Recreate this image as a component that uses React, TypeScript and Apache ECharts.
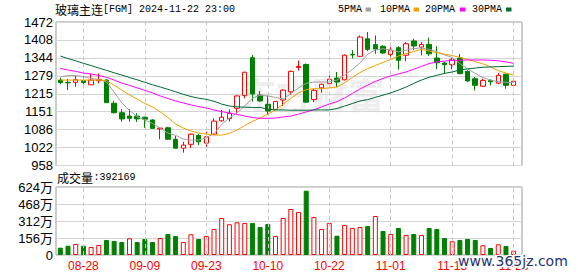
import React, { useEffect, useRef } from "react";
import * as echarts from "echarts";

const dates = [
  "08-23","08-26","08-27","08-28","08-29","08-30","09-02","09-03","09-04","09-05",
  "09-06","09-09","09-10","09-11","09-12","09-13","09-18","09-19","09-20","09-23",
  "09-24","09-25","09-26","09-27","09-30","10-08","10-09","10-10","10-11","10-14",
  "10-15","10-16","10-17","10-18","10-21","10-22","10-23","10-24","10-25","10-28",
  "10-29","10-30","10-31","11-01","11-04","11-05","11-06","11-07","11-08","11-11",
  "11-12","11-13","11-14","11-15","11-18","11-19","11-20","11-21","11-22","11-25",
];

const opens = [1264,1256,1256,1262,1247,1262,1264,1181,1147,1135,1135,1131,1121,1089,1093,1052,1020,1034,1066,1038,1070,1118,1126,1163,1209,1344,1210,1177,1159,1193,1222,1309,1320,1194,1236,1251,1271,1265,1356,1349,1412,1391,1385,1356,1380,1353,1404,1382,1392,1343,1325,1319,1343,1295,1269,1242,1262,1253,1285,1245];
const closes = [1255,1254,1265,1255,1264,1266,1183,1147,1125,1127,1125,1124,1091,1092,1052,1020,1031,1070,1043,1061,1117,1131,1145,1207,1292,1214,1189,1153,1187,1228,1295,1313,1185,1227,1249,1267,1257,1353,1354,1418,1374,1375,1361,1371,1335,1394,1386,1391,1358,1326,1319,1337,1287,1261,1245,1263,1258,1281,1245,1260];
const lows = [1249,1228,1240,1249,1247,1252,1183,1145,1115,1115,1114,1093,1091,1052,1049,1020,1004,1020,1031,1025,1067,1115,1115,1147,1199,1187,1187,1139,1157,1171,1211,1298,1185,1185,1219,1251,1239,1263,1341,1347,1368,1358,1358,1341,1301,1331,1371,1353,1350,1303,1287,1303,1285,1257,1227,1239,1245,1249,1233,1245];
const highs = [1272,1268,1279,1279,1286,1288,1267,1190,1160,1160,1145,1133,1124,1095,1097,1064,1043,1073,1071,1079,1127,1157,1159,1209,1294,1354,1225,1208,1189,1231,1298,1334,1323,1233,1251,1281,1293,1356,1371,1424,1436,1424,1389,1382,1385,1400,1412,1400,1416,1385,1329,1343,1358,1299,1275,1269,1267,1289,1287,1271];

const ma5 = [1276,1280,1280,1277,1270,1266,1257,1221,1182,1155,1133,1121,1109,1092,1074,1066,1053,1049,1049,1058,1072,1105,1128,1146,1171,1199,1210,1207,1202,1196,1216,1236,1252,1257,1257,1257,1264,1282,1302,1325,1356,1372,1376,1372,1365,1371,1377,1379,1374,1366,1354,1345,1323,1304,1288,1273,1264,1258,1256,1255];
const ma10 = [1264,1264,1264,1264,1264,1264,1262,1246,1228,1211,1196,1180,1168,1150,1130,1107,1092,1082,1074,1071,1067,1067,1073,1085,1101,1116,1128,1142,1157,1178,1198,1218,1230,1233,1233,1236,1239,1254,1273,1291,1305,1316,1327,1338,1350,1359,1366,1374,1368,1362,1357,1352,1345,1338,1330,1322,1311,1298,1289,1282];
const ma20 = [1306,1300,1295,1289,1286,1280,1274,1264,1253,1245,1236,1227,1218,1207,1198,1189,1182,1175,1169,1164,1157,1151,1146,1141,1135,1130,1127,1127,1128,1132,1135,1142,1150,1157,1168,1178,1187,1200,1216,1232,1246,1259,1270,1279,1286,1293,1303,1313,1323,1329,1332,1334,1335,1336,1336,1336,1335,1333,1329,1324];
const ma30 = [1350,1341,1333,1324,1316,1307,1299,1290,1282,1273,1265,1256,1247,1239,1231,1222,1213,1205,1199,1195,1188,1178,1171,1168,1167,1166,1166,1160,1157,1157,1156,1156,1156,1157,1157,1157,1162,1171,1180,1189,1194,1202,1210,1218,1228,1239,1252,1264,1274,1281,1288,1293,1300,1304,1307,1310,1311,1312,1313,1314];

const volumes = [670000,850000,1010000,850000,730000,920000,1380000,1290000,1190000,1530000,1190000,1470000,1190000,1560000,1930000,1740000,1190000,1900000,1470000,1740000,2390000,3400000,2820000,3000000,2940000,2940000,2570000,2850000,1740000,3400000,4220000,3950000,5900000,3490000,2390000,2940000,1770000,2750000,2480000,2570000,2660000,3580000,2200000,1930000,2480000,1840000,1930000,1840000,2480000,2390000,1560000,1260000,1380000,1470000,1380000,890000,640000,980000,830000,392169];

const priceTicks = ["958","1022","1086","1151","1215","1279","1344","1408","1472"];
const volumeTicks = ["0","156万","312万","468万","624万"];
const labelDates = ["08-28","09-09","09-23","10-10","10-22","11-01","11-13","11-25"];
const maNames = ["5PMA","10PMA","20PMA","30PMA"];
const maColors = ["#a0a0a0","#f0a000","#ff00ff","#006a32"];

const UP = "#ff0000";
const DOWN = "#008000";
const MONO = "Liberation Mono";
const CJK = "Noto Sans CJK SC";

export default function App() {
  const ref = useRef<HTMLDivElement>(null);
  useEffect(() => {
    const chart = echarts.init(ref.current!, null, { renderer: "svg" });
    const candleData = opens.map((o, i) => [o, closes[i], lows[i], highs[i]]);
    const volData = volumes.map((v, i) => {
      const rising = i === 0 ? closes[i] >= opens[i] : closes[i] >= closes[i - 1];
      return {
        value: v,
        itemStyle: rising
          ? { color: "#ffffff", borderColor: UP, borderWidth: 1 }
          : { color: DOWN, borderColor: DOWN, borderWidth: 1 },
      };
    });
    const vLines = {
      silent: true,
      symbol: ["none", "none"],
      label: { show: false },
      lineStyle: { type: [4, 3], color: "#c8c8c8", width: 1 },
      data: labelDates.map((d) => ({ xAxis: d })),
    };
    const maSeries = [ma5, ma10, ma20, ma30].map((d, k) => ({
      name: maNames[k],
      type: "line",
      xAxisIndex: 1,
      yAxisIndex: 1,
      data: d,
      symbol: "none",
      showSymbol: false,
      lineStyle: { width: 1, color: maColors[k] },
      z: 5,
    }));

    const legendEls: any[] = [];
    const legendX = [338, 380, 425, 472];
    const legendBox = [365.5, 413.5, 460, 506];
    maNames.forEach((n, k) => {
      legendEls.push({
        type: "text",
        x: legendX[k],
        y: 9.5,
        style: { text: n, fontSize: 10, fontFamily: MONO, fill: "#000", verticalAlign: "middle", align: "left" },
      });
      legendEls.push({
        type: "rect",
        shape: { x: legendBox[k], y: 7.5, width: 5.5, height: 4 },
        style: { fill: maColors[k] },
      });
    });

    const option: any = {
      animation: false,
      backgroundColor: "#ffffff",
      grid: [
        { left: 56, top: 22, width: 466, height: 143.5, show: true, borderColor: "#999", borderWidth: 1 },
        { left: 56.5, top: 22, width: 461, height: 143.5 },
        { left: 56, top: 187, width: 466, height: 68, show: true, borderColor: "#999", borderWidth: 1 },
        { left: 56.5, top: 187, width: 461, height: 68 },
      ],
      xAxis: [
        { gridIndex: 0, type: "value", min: 0, max: 1, show: false },
        { gridIndex: 1, type: "category", data: dates, boundaryGap: true, show: false },
        { gridIndex: 2, type: "value", min: 0, max: 1, show: false },
        {
          gridIndex: 3,
          type: "category",
          data: dates,
          boundaryGap: true,
          axisLine: { show: false },
          axisTick: { show: false },
          splitLine: { show: false },
          axisLabel: {
            interval: (_i: number, v: string) => labelDates.indexOf(v) >= 0,
            color: "#ff0000",
            fontSize: 12,
            fontFamily: "Liberation Sans",
            margin: 5,
          },
        },
      ],
      yAxis: [
        {
          gridIndex: 0, type: "value", min: 0, max: 8, interval: 1,
          axisLine: { show: false }, axisTick: { show: false },
          splitLine: { show: true, lineStyle: { color: "#d4d4d4", width: 1 } },
          axisLabel: { formatter: (v: number) => priceTicks[v], fontSize: 13, color: "#000", margin: 3, fontFamily: "Liberation Sans" },
        },
        { gridIndex: 1, type: "value", min: 958, max: 1472, show: false, splitLine: { show: false } },
        {
          gridIndex: 2, type: "value", min: 0, max: 4, interval: 1,
          axisLine: { show: false }, axisTick: { show: false },
          splitLine: { show: true, lineStyle: { color: "#d4d4d4", width: 1 } },
          axisLabel: { formatter: (v: number) => volumeTicks[v], fontSize: 13, color: "#000", margin: 3, fontFamily: "Liberation Sans, Noto Sans CJK SC" },
        },
        { gridIndex: 3, type: "value", min: 0, max: 6240000, show: false, splitLine: { show: false } },
      ],
      series: [
        {
          type: "candlestick",
          xAxisIndex: 1,
          yAxisIndex: 1,
          data: candleData,
          barWidth: 5,
          itemStyle: { color: "#ffffff", color0: DOWN, borderColor: UP, borderColor0: DOWN, borderWidth: 1 },
          markLine: vLines,
          z: 3,
        },
        ...maSeries,
        {
          type: "bar",
          xAxisIndex: 3,
          yAxisIndex: 3,
          data: volData,
          barWidth: 5,
          markLine: vLines,
        },
      ],
      graphic: [
        {
          type: "text", x: 240, y: 93, z: 0,
          style: { text: "东方财富", fontSize: 36, fontWeight: "bold", fontFamily: CJK, fill: "#eeeeee", verticalAlign: "middle" },
        },
        {
          type: "text", x: 55, y: 9.5,
          style: { text: "玻璃主连", fontSize: 12, fontFamily: CJK, fill: "#000", verticalAlign: "middle" },
        },
        {
          type: "text", x: 103, y: 9.5,
          style: { text: "[FGM] 2024-11-22 23:00", fontSize: 10, fontFamily: MONO, fill: "#000", verticalAlign: "middle" },
        },
        ...legendEls,
        {
          type: "text", x: 57, y: 177.3,
          style: { text: "成交量", fontSize: 12, fontFamily: CJK, fill: "#000", verticalAlign: "middle" },
        },
        {
          type: "text", x: 93.5, y: 177.3,
          style: { text: ":" + volumes[volumes.length - 1], fontSize: 10, fontFamily: MONO, fill: "#000", verticalAlign: "middle" },
        },
        {
          type: "text", x: 458, y: 261, z: 100,
          style: { text: "www.365jz.com", fontSize: 14, fontFamily: "DejaVu Sans", fill: "#1f3375", stroke: "#ffffff", lineWidth: 3, verticalAlign: "middle" },
        },
      ],
    };
    chart.setOption(option);
    return () => chart.dispose();
  }, []);
  return <div ref={ref} style={{ position: "absolute", left: 0, top: 0, width: 578, height: 276 }} />;
}
